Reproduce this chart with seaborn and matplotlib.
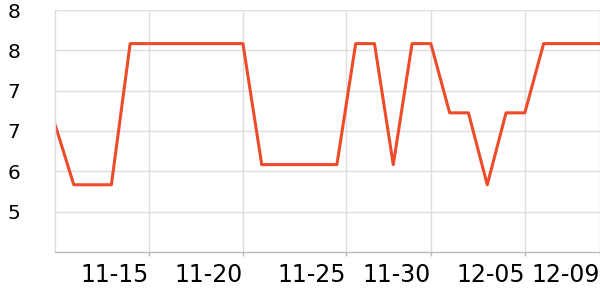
import numpy as np
import pandas as pd
import matplotlib
matplotlib.use("Agg")
import matplotlib.pyplot as plt
import matplotlib.dates as mdates
from matplotlib.ticker import FixedLocator, FuncFormatter
import seaborn as sns

dates = pd.date_range("2023-11-10", "2023-12-09", freq="D")
values = [7.2, 6.3, 6.3, 6.3, 8.4, 8.4, 8.4, 8.4, 8.4, 8.4, 8.4,
          6.6, 6.6, 6.6, 6.6, 6.6, 8.4, 8.4, 6.6, 8.4, 8.4,
          7.37, 7.37, 6.3, 7.37, 7.37, 8.4, 8.4, 8.4, 8.4]
tick_dates = pd.to_datetime(["2023-11-15 00:00", "2023-11-20 00:00", "2023-11-25 12:00",
                             "2023-11-30 00:00", "2023-12-05 00:00", "2023-12-09 00:00"])
tick_labels = ["11-15", "11-20", "11-25", "11-30", "12-05", "12-09"]
y_ticks = [8.9, 8.3, 7.7, 7.1, 6.5, 5.9]
y_min, y_max = 5.3, 8.9

df = pd.DataFrame({"date": dates, "value": values})

sns.set_theme(style="white")
plt.rcParams["font.family"] = ["DejaVu Sans"]

fig = plt.figure(figsize=(6, 3), dpi=100)
ax = fig.add_axes([55 / 600, 48 / 300, 545 / 600, 242 / 300])
sns.lineplot(data=df, x="date", y="value", ax=ax, color="#EE4B2B", linewidth=2.2)

ax.set_xlim(dates[0], dates[-1])
ax.set_ylim(y_min, y_max)

ax.xaxis.set_major_locator(FixedLocator(mdates.date2num(tick_dates)))
ax.set_xticklabels(tick_labels)
for lbl in ax.get_xticklabels():
    lbl.set_ha("right")
ax.yaxis.set_major_locator(FixedLocator(y_ticks))
ax.yaxis.set_major_formatter(FuncFormatter(lambda v, p: f"{int(np.floor(v + 1e-9))}"))

ax.grid(True, color="#dddddd", linewidth=1)
ax.set_axisbelow(True)
for s in ["top", "right"]:
    ax.spines[s].set_visible(False)
ax.spines["left"].set_color("#dddddd")
ax.spines["left"].set_linewidth(1)
ax.spines["bottom"].set_color("#bbbbbb")
ax.spines["bottom"].set_linewidth(1)

ax.tick_params(axis="x", length=3, width=1, color="#bbbbbb", labelsize=17, pad=5,
               bottom=True, labelcolor="black")
ax.tick_params(axis="y", length=0, labelsize=14.5, pad=25, left=False, labelcolor="black")
ax.set_xlabel("")
ax.set_ylabel("")

fig.savefig("out.png", dpi=100)
